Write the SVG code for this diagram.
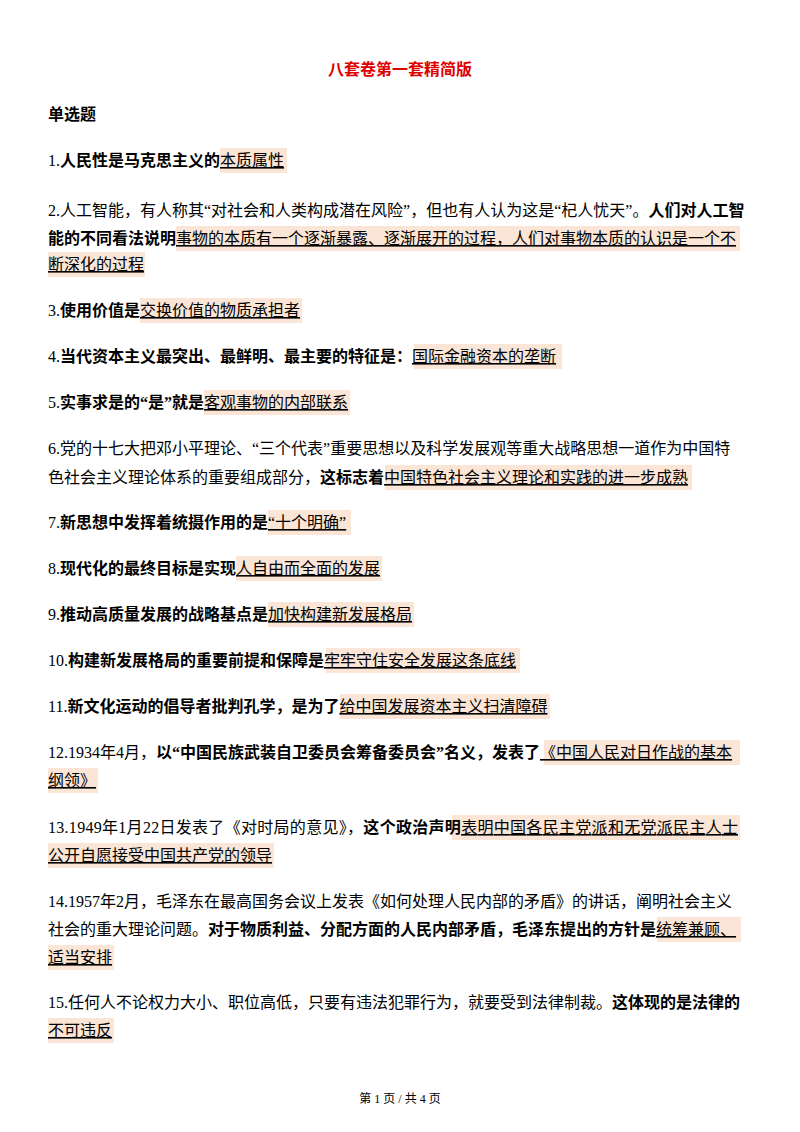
<svg xmlns="http://www.w3.org/2000/svg" width="800" height="1132" viewBox="0 0 800 1132">
<style>
text{font-family:"Liberation Serif","Noto Sans CJK SC",sans-serif;font-size:16px;fill:#000}
.b{font-weight:bold}
.u{text-decoration:underline}
.h{fill:#fbe5d6}
.t{fill:#e00000;font-weight:bold;font-size:16px}
.f{font-size:12px}
</style>
<rect width="800" height="1132" fill="#fff"/>
<g id="highlights">
<rect class="h" x="220" y="148" width="67" height="25"/>
<rect class="h" x="176" y="226" width="564" height="25"/>
<rect class="h" x="48" y="252" width="97" height="25"/>
<rect class="h" x="140" y="298" width="162" height="25"/>
<rect class="h" x="414" y="344" width="148" height="25"/>
<rect class="h" x="204" y="390" width="146" height="25"/>
<rect class="h" x="385" y="465" width="307" height="25"/>
<rect class="h" x="268" y="510" width="83" height="25"/>
<rect class="h" x="236" y="556" width="146" height="25"/>
<rect class="h" x="268" y="602" width="146" height="25"/>
<rect class="h" x="326" y="648" width="194" height="25"/>
<rect class="h" x="340" y="694" width="210" height="25"/>
<rect class="h" x="544" y="740" width="196" height="25"/>
<rect class="h" x="48" y="768" width="50" height="25"/>
<rect class="h" x="452" y="815" width="288" height="25"/>
<rect class="h" x="48" y="843" width="226" height="25"/>
<rect class="h" x="657" y="917" width="84" height="25"/>
<rect class="h" x="48" y="945" width="66" height="25"/>
<rect class="h" x="48" y="1018" width="66" height="25"/>
</g>
<text class="t" x="400" y="75" text-anchor="middle">八套卷第一套精简版</text>
<text class="b" x="48" y="120">单选题</text>
<text x="48" y="166">1.<tspan class="b">人民性是马克思主义的</tspan><tspan class="u">本质属性</tspan></text>
<text x="48" y="216">2.人工智能，有人称其“对社会和人类构成潜在风险”，但也有人认为这是“杞人忧天”。<tspan class="b">人们对人工智</tspan></text>
<text x="48" y="244"><tspan class="b">能的不同看法说明</tspan><tspan class="u">事物的本质有一个逐渐暴露、逐渐展开的过程，人们对事物本质的认识是一个不</tspan></text>
<text x="48" y="270" class="u">断深化的过程</text>
<text x="48" y="316">3.<tspan class="b">使用价值是</tspan><tspan class="u">交换价值的物质承担者</tspan></text>
<text x="48" y="362">4.<tspan class="b">当代资本主义最突出、最鲜明、最主要的特征是：</tspan><tspan class="u">国际金融资本的垄断</tspan></text>
<text x="48" y="408">5.<tspan class="b">实事求是的“是”就是</tspan><tspan class="u">客观事物的内部联系</tspan></text>
<text x="48" y="454">6.党的十七大把邓小平理论、“三个代表”重要思想以及科学发展观等重大战略思想一道作为中国特</text>
<text x="48" y="483">色社会主义理论体系的重要组成部分，<tspan class="b">这标志着</tspan><tspan class="u">中国特色社会主义理论和实践的进一步成熟</tspan></text>
<text x="48" y="528">7.<tspan class="b">新思想中发挥着统摄作用的是</tspan><tspan class="u">“十个明确”</tspan></text>
<text x="48" y="574">8.<tspan class="b">现代化的最终目标是实现</tspan><tspan class="u">人自由而全面的发展</tspan></text>
<text x="48" y="620">9.<tspan class="b">推动高质量发展的战略基点是</tspan><tspan class="u">加快构建新发展格局</tspan></text>
<text x="48" y="666">10.<tspan class="b">构建新发展格局的重要前提和保障是</tspan><tspan class="u">牢牢守住安全发展这条底线</tspan></text>
<text x="48" y="712">11.<tspan class="b">新文化运动的倡导者批判孔学，是为了</tspan><tspan class="u">给中国发展资本主义扫清障碍</tspan></text>
<text x="48" y="758">12.1934年4月，<tspan class="b">以“中国民族武装自卫委员会筹备委员会”名义，发表了</tspan><tspan class="u">《中国人民对日作战的基本</tspan></text>
<text x="48" y="786" class="u">纲领》</text>
<text x="48" y="833" textLength="690" lengthAdjust="spacing">13.1949年1月22日发表了《对时局的意见》，<tspan class="b">这个政治声明</tspan><tspan class="u">表明中国各民主党派和无党派民主人士</tspan></text>
<text x="48" y="861" class="u">公开自愿接受中国共产党的领导</text>
<text x="48" y="907">14.1957年2月，毛泽东在最高国务会议上发表《如何处理人民内部的矛盾》的讲话，阐明社会主义</text>
<text x="48" y="935">社会的重大理论问题。<tspan class="b">对于物质利益、分配方面的人民内部矛盾，毛泽东提出的方针是</tspan><tspan class="u">统筹兼顾、</tspan></text>
<text x="48" y="963" class="u">适当安排</text>
<text x="48" y="1008">15.任何人不论权力大小、职位高低，只要有违法犯罪行为，就要受到法律制裁。<tspan class="b">这体现的是法律的</tspan></text>
<text x="48" y="1036" class="u">不可违反</text>
<text class="f" x="400" y="1103" text-anchor="middle">第 1 页 / 共 4 页</text>
</svg>
